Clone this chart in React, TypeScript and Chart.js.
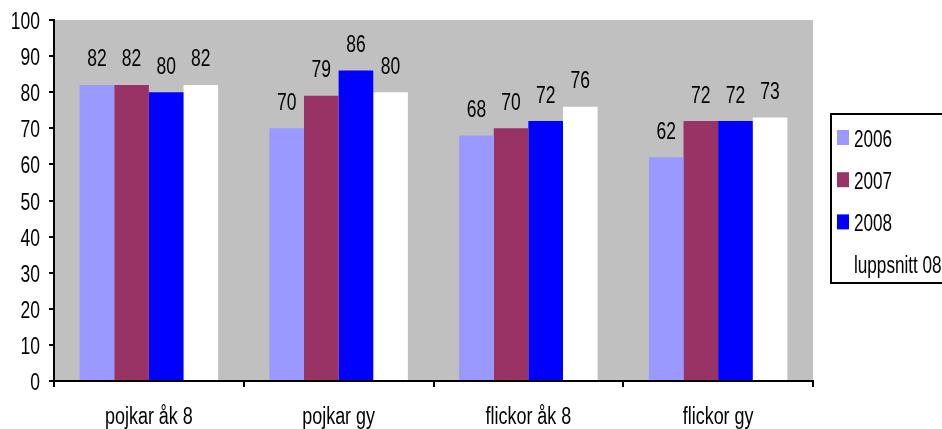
import React, { useEffect, useRef } from "react";
import { Chart, registerables } from "chart.js";

Chart.register(...registerables);

const categories = ["pojkar åk 8", "pojkar gy", "flickor åk 8", "flickor gy"];
const seriesNames = ["2006", "2007", "2008", "luppsnitt 08"];
const values2006 = [82, 70, 68, 62];
const values2007 = [82, 79, 70, 72];
const values2008 = [80, 86, 72, 72];
const valuesAvg = [82, 80, 76, 73];
const seriesColors = ["#9999FF", "#993366", "#0000FF", "#FFFFFF"];
const yMin = 0;
const yMax = 100;
const yStep = 10;

const FONT = '"Liberation Sans", Arial, sans-serif';
const SX = 0.76;

function narrowText(ctx: any, text: string, x: number, y: number, align: string, size: number, sx: number) {
  ctx.save();
  ctx.translate(x, y);
  ctx.scale(sx, 1);
  ctx.font = `${size}px ${FONT}`;
  ctx.fillStyle = "#000";
  ctx.textAlign = align;
  ctx.textBaseline = "alphabetic";
  ctx.fillText(text, 0, 0);
  ctx.restore();
}

const plotBackground = {
  id: "plotBackground",
  beforeDraw(chart: any) {
    const { ctx, chartArea } = chart;
    ctx.save();
    ctx.fillStyle = "#C0C0C0";
    ctx.fillRect(chartArea.left, chartArea.top, chartArea.right - chartArea.left, chartArea.bottom - chartArea.top);
    ctx.restore();
  },
};

const axisLabels = {
  id: "axisLabels",
  afterDraw(chart: any) {
    const { ctx } = chart;
    const ys = chart.scales.y;
    ys.ticks.forEach((t: any) => {
      const py = ys.getPixelForValue(t.value);
      narrowText(ctx, String(t.value), ys.right - 14, py + 9, "right", 23, SX);
    });
    const xs = chart.scales.x;
    chart.data.labels.forEach((lab: string, i: number) => {
      const px = xs.getPixelForTick(i);
      narrowText(ctx, lab, px, xs.top + 42.5, "center", 23, 0.78);
    });
  },
};

const valueLabels = {
  id: "valueLabels",
  afterDatasetsDraw(chart: any) {
    const { ctx } = chart;
    chart.data.datasets.forEach((ds: any, i: number) => {
      const meta = chart.getDatasetMeta(i);
      meta.data.forEach((el: any, j: number) => {
        narrowText(ctx, String(ds.data[j]), el.x, el.y - 18.5, "center", 23, SX);
      });
    });
  },
};

const boxLegend = {
  id: "boxLegend",
  afterDraw(chart: any) {
    const { ctx } = chart;
    const left = 831;
    const top = 114;
    const height = 169;
    ctx.save();
    ctx.strokeStyle = "#000";
    ctx.lineWidth = 2;
    ctx.strokeRect(left, top, 200, height);
    ctx.restore();
    chart.data.datasets.forEach((ds: any, i: number) => {
      const base = 146.5 + i * 42.2;
      ctx.save();
      ctx.fillStyle = ds.backgroundColor;
      ctx.fillRect(837, base - 16.5, 12, 15);
      ctx.restore();
      narrowText(ctx, ds.label, 854, base, "left", 23, 0.745);
    });
  },
};

export default function App() {
  const ref = useRef<HTMLCanvasElement | null>(null);

  useEffect(() => {
    if (!ref.current) return;
    const seriesValues = [values2006, values2007, values2008, valuesAvg];
    const chart = new Chart(ref.current, {
      type: "bar",
      data: {
        labels: categories,
        datasets: seriesNames.map((name, i) => ({
          label: name,
          data: seriesValues[i],
          backgroundColor: seriesColors[i],
          borderWidth: 0,
          categoryPercentage: 0.73,
          barPercentage: 1.0,
        })),
      },
      options: {
        animation: false,
        responsive: false,
        devicePixelRatio: 1,
        layout: { padding: { top: 20, right: 129, left: 0, bottom: 0 } },
        plugins: {
          legend: { display: false },
          tooltip: { enabled: false },
        },
        scales: {
          x: {
            grid: {
              drawOnChartArea: false,
              drawTicks: true,
              tickLength: 6,
              color: "#000",
              lineWidth: 2,
              offset: true,
            },
            border: { color: "#000", width: 2 },
            ticks: { display: false },
            afterFit(scale: any) {
              scale.height = 48;
            },
          },
          y: {
            min: yMin,
            max: yMax,
            grid: {
              drawOnChartArea: false,
              drawTicks: true,
              tickLength: 5,
              color: "#000",
              lineWidth: 2,
            },
            border: { color: "#000", width: 2 },
            ticks: { stepSize: yStep, display: false },
            afterFit(scale: any) {
              scale.width = 54;
            },
          },
        },
      },
      plugins: [plotBackground, valueLabels, axisLabels, boxLegend],
    });
    return () => chart.destroy();
  }, []);

  return (
    <div style={{ position: "fixed", left: 0, top: 0, width: 942, height: 429, background: "#fff" }}>
      <canvas ref={ref} width={942} height={429} style={{ display: "block", width: 942, height: 429 }} />
    </div>
  );
}
